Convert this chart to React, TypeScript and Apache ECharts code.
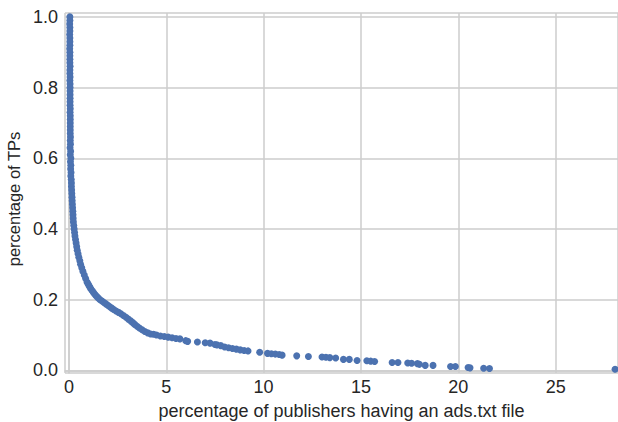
import React, { useEffect, useRef } from "react";
import * as echarts from "echarts";

// x: percentage of publishers having an ads.txt file, y: percentage of TPs
const steepPart: [number, number][] = [
  [0.05, 1.0], [0.05, 0.99], [0.04, 0.98], [0.05, 0.97], [0.05, 0.96], [0.04, 0.95],
  [0.05, 0.94], [0.05, 0.93], [0.05, 0.92], [0.04, 0.91], [0.05, 0.9], [0.05, 0.89],
  [0.05, 0.88], [0.05, 0.87], [0.06, 0.86], [0.05, 0.85], [0.05, 0.84], [0.06, 0.83],
  [0.05, 0.82], [0.06, 0.81], [0.06, 0.8], [0.06, 0.79], [0.06, 0.78], [0.06, 0.77],
  [0.06, 0.76], [0.06, 0.75], [0.07, 0.74], [0.06, 0.73], [0.07, 0.72], [0.07, 0.71],
  [0.07, 0.7], [0.07, 0.69], [0.07, 0.68], [0.07, 0.67], [0.08, 0.66], [0.07, 0.65],
  [0.08, 0.64], [0.06, 0.63], [0.09, 0.62], [0.07, 0.61], [0.1, 0.6], [0.08, 0.59],
  [0.1, 0.58], [0.09, 0.57], [0.11, 0.56], [0.1, 0.55], [0.12, 0.54], [0.13, 0.53],
  [0.13, 0.52], [0.14, 0.51], [0.15, 0.5],
];

const curvePart: [number, number][] = [
  [0.16, 0.49], [0.17, 0.48], [0.18, 0.47], [0.19, 0.46], [0.2, 0.45], [0.21, 0.44],
  [0.22, 0.43], [0.23, 0.42], [0.25, 0.41], [0.27, 0.4], [0.29, 0.39], [0.31, 0.38],
  [0.34, 0.37], [0.37, 0.36], [0.4, 0.35], [0.43, 0.34], [0.47, 0.33], [0.51, 0.32],
  [0.56, 0.31], [0.6, 0.3], [0.66, 0.29], [0.72, 0.28], [0.79, 0.27], [0.86, 0.26],
  [0.93, 0.25], [0.98, 0.245], [1.03, 0.24], [1.08, 0.235], [1.13, 0.23], [1.2, 0.225],
  [1.26, 0.22], [1.33, 0.215], [1.41, 0.21], [1.5, 0.205], [1.6, 0.2], [1.7, 0.196],
  [1.8, 0.192], [1.9, 0.188], [2.0, 0.184], [2.1, 0.18], [2.2, 0.176], [2.3, 0.172],
  [2.42, 0.168], [2.55, 0.164], [2.67, 0.16], [2.8, 0.155], [2.93, 0.15], [3.05, 0.145],
  [3.17, 0.14], [3.28, 0.135], [3.38, 0.13], [3.5, 0.125], [3.62, 0.12], [3.76, 0.115],
  [3.9, 0.11], [4.05, 0.106], [4.2, 0.103],
];

const tailPart: [number, number][] = [
  [4.35, 0.102], [4.5, 0.1], [4.7, 0.097], [4.9, 0.096], [5.1, 0.094], [5.3, 0.092],
  [5.5, 0.09], [5.7, 0.089], [6.0, 0.084], [6.1, 0.082], [6.6, 0.08], [7.0, 0.078],
  [7.25, 0.077], [7.5, 0.073], [7.6, 0.072], [7.8, 0.07], [8.0, 0.066], [8.2, 0.064],
  [8.4, 0.062], [8.6, 0.06], [8.8, 0.058], [9.0, 0.056], [9.2, 0.055], [9.8, 0.051],
  [10.2, 0.048], [10.4, 0.047], [10.6, 0.046], [10.8, 0.045], [10.95, 0.043], [11.7, 0.041],
  [12.3, 0.039], [13.0, 0.038], [13.2, 0.037], [13.4, 0.036], [13.7, 0.035], [14.1, 0.031],
  [14.4, 0.031], [14.8, 0.028], [15.3, 0.027], [15.5, 0.026], [15.7, 0.025], [16.6, 0.022],
  [16.9, 0.022], [17.4, 0.021], [17.6, 0.02], [17.9, 0.019], [18.0, 0.017], [18.3, 0.014],
  [18.7, 0.014], [19.6, 0.011], [19.85, 0.011], [20.5, 0.008], [20.6, 0.007], [21.3, 0.006],
  [21.6, 0.005], [28.05, 0.003],
];

const xLimits = [-0.2, 28.2];
const yLimits = [-0.0075, 1.011];
const xTitle = "percentage of publishers having an ads.txt file";
const yTitle = "percentage of TPs";

const FONT = "'Liberation Sans', Arial, Helvetica, sans-serif";
const TEXT = "#262626";
const GRID = "#cccccc";

export default function App() {
  const ref = useRef<HTMLDivElement>(null);
  useEffect(() => {
    if (!ref.current) return;
    const chart = echarts.init(ref.current, undefined, { renderer: "svg" });
    chart.setOption({
      animation: false,
      backgroundColor: "#ffffff",
      textStyle: { fontFamily: FONT },
      grid: {
        left: 65,
        right: 0,
        top: 13,
        bottom: 49,
        containLabel: false,
        outerBoundsMode: "none",
      },
      xAxis: {
        type: "value",
        min: xLimits[0],
        max: xLimits[1],
        name: xTitle,
        nameLocation: "middle",
        nameGap: 29,
        nameTextStyle: { fontSize: 18, color: TEXT, fontFamily: FONT },
        axisLine: { show: true, lineStyle: { color: GRID, width: 1.5 } },
        axisTick: { show: false },
        axisLabel: {
          fontSize: 18,
          color: TEXT,
          fontFamily: FONT,
          margin: 5,
          showMinLabel: false,
          showMaxLabel: false,
          formatter: (v: number) => String(Math.round(v)),
        },
        splitLine: { show: true, lineStyle: { color: GRID, width: 1.5 } },
      },
      yAxis: {
        type: "value",
        min: yLimits[0],
        max: yLimits[1],
        name: yTitle,
        nameLocation: "middle",
        nameGap: 38,
        nameTextStyle: {
          fontSize: 16.5,
          color: TEXT,
          fontFamily: FONT,
          padding: [0, 12, 0, 0],
        },
        axisLine: { show: true, lineStyle: { color: GRID, width: 1.5 } },
        axisTick: { show: false },
        axisLabel: {
          fontSize: 18,
          color: TEXT,
          fontFamily: FONT,
          margin: 7,
          showMinLabel: false,
          showMaxLabel: false,
          formatter: (v: number) => v.toFixed(1),
        },
        splitLine: { show: true, lineStyle: { color: GRID, width: 1.5 } },
      },
      series: [
        {
          type: "scatter",
          data: [...steepPart, ...curvePart, ...tailPart],
          symbolSize: 7,
          itemStyle: { color: "#4C72B0", opacity: 1 },
          clip: false,
        },
      ],
    });
    return () => chart.dispose();
  }, []);
  return (
    <div
      ref={ref}
      style={{ position: "absolute", left: 0, top: 0, width: 618, height: 422 }}
    />
  );
}
